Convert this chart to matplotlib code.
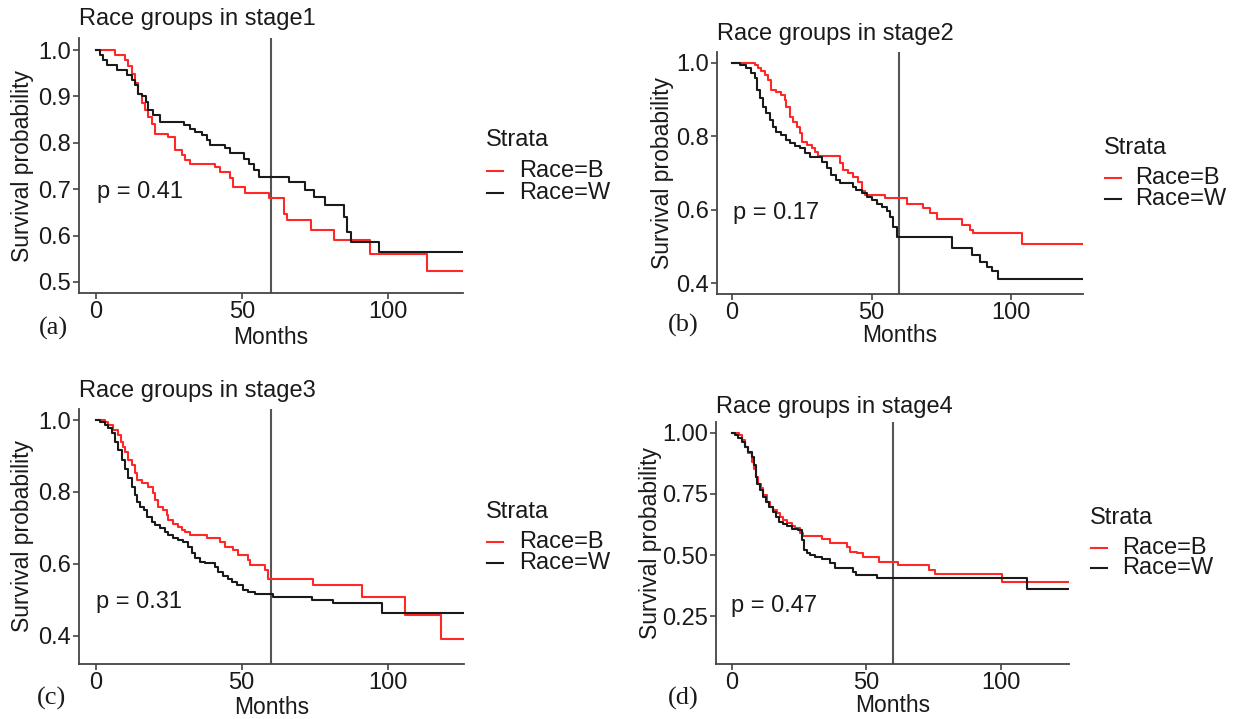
import matplotlib
matplotlib.use("Agg")
import matplotlib.pyplot as plt
from matplotlib.lines import Line2D

plt.rcParams['font.family'] = ['Liberation Sans', 'DejaVu Sans']

W, H = 1233, 719

# --- stage 1 (Kaplan-Meier step data) ---
s1_b_time = [0, 6.5, 10, 11.1, 12.2, 13.4, 14.5, 15.7, 16.8, 18, 19.1, 20.3, 24.8, 27.1, 29.4, 30.5,
             32.3, 40.8, 42.6, 46, 47.1, 51.1, 59.2, 64.3, 65.4, 73.5, 81.5, 94, 113.5, 127]
s1_b_surv = [1.0, 0.99, 0.978, 0.965, 0.948, 0.93, 0.905, 0.885, 0.87, 0.855, 0.84, 0.82, 0.813, 0.784,
             0.773, 0.763, 0.755, 0.748, 0.737, 0.723, 0.705, 0.692, 0.68, 0.647, 0.633, 0.612, 0.59,
             0.561, 0.524, 0.524]
s1_w_time = [0, 1.4, 2.5, 3.7, 7.1, 10.5, 12.2, 13.4, 14.5, 15.7, 17, 18, 19.7, 22, 30, 32.3, 34, 36.3,
             38, 39.1, 44.3, 46, 50.6, 52.3, 54, 55.7, 66, 71.7, 74.6, 78.6, 84.9, 86, 87.2, 96.9, 127]
s1_w_surv = [1.0, 0.99, 0.978, 0.968, 0.957, 0.946, 0.935, 0.925, 0.906, 0.9, 0.888, 0.87, 0.86, 0.845,
             0.838, 0.83, 0.824, 0.817, 0.806, 0.795, 0.788, 0.777, 0.766, 0.755, 0.741, 0.727, 0.716,
             0.698, 0.683, 0.665, 0.64, 0.608, 0.586, 0.565, 0.565]

# --- stage 2 ---
s2_b_time = [0, 8.1, 9.3, 10.5, 11.7, 12.9, 14.1, 15.9, 17.7, 18.9, 19.5, 20.7, 21.9, 23.1, 24.3, 25.1,
             26.7, 28.5, 29.7, 30.9, 38.6, 39.8, 41.6, 43.4, 45.2, 46.4, 47.6, 54.8, 62.6, 68.5, 70.9,
             73.3, 82.3, 85.3, 86.5, 103.8, 127]
s2_b_surv = [1.0, 0.994, 0.985, 0.976, 0.966, 0.953, 0.926, 0.921, 0.912, 0.898, 0.88, 0.853, 0.84,
             0.826, 0.808, 0.785, 0.776, 0.767, 0.758, 0.746, 0.726, 0.708, 0.699, 0.69, 0.676, 0.65,
             0.64, 0.631, 0.617, 0.604, 0.59, 0.574, 0.558, 0.545, 0.538, 0.507, 0.507]
s2_w_time = [0, 2.8, 5.1, 6.9, 8.1, 9, 9.9, 11.1, 12.3, 13.5, 14.7, 15.9, 17.7, 19.5, 20.7, 22.5, 24.3,
             26.1, 27.9, 32.1, 33.9, 35.6, 37.4, 38.6, 43.4, 44.6, 46.4, 48.2, 50, 51.8, 53.6, 55.4,
             56.6, 57.8, 59, 78.7, 85.9, 88.9, 91.3, 93.1, 95.5, 127]
s2_w_surv = [1.0, 0.994, 0.985, 0.971, 0.957, 0.926, 0.903, 0.88, 0.862, 0.844, 0.826, 0.812, 0.803,
             0.791, 0.782, 0.773, 0.767, 0.755, 0.744, 0.731, 0.713, 0.694, 0.681, 0.672, 0.663, 0.654,
             0.645, 0.636, 0.627, 0.617, 0.608, 0.597, 0.581, 0.554, 0.527, 0.495, 0.477, 0.459, 0.445,
             0.434, 0.413, 0.413]

# --- stage 3 ---
s3_b_time = [0, 3.2, 4.3, 6, 7.8, 8.6, 9.5, 10, 11.2, 12.3, 13.5, 14, 15.8, 18, 19.7, 20.3, 21.5, 23.2,
             24.3, 24.9, 26.6, 28.3, 29.5, 30.6, 32.3, 38, 42.6, 44.3, 47.1, 48.9, 52.3, 52.9, 58, 59.1,
             74.5, 91.1, 105.9, 118.2, 127]
s3_b_surv = [1.0, 0.995, 0.986, 0.972, 0.958, 0.94, 0.926, 0.912, 0.889, 0.875, 0.852, 0.833, 0.824,
             0.814, 0.796, 0.777, 0.759, 0.75, 0.736, 0.722, 0.712, 0.703, 0.694, 0.689, 0.68, 0.673,
             0.661, 0.647, 0.638, 0.624, 0.61, 0.596, 0.583, 0.559, 0.541, 0.508, 0.457, 0.392, 0.392]
s3_w_time = [0, 1.5, 3.2, 4.3, 5.5, 6.6, 7.8, 8.9, 10, 11.2, 12.3, 13.5, 14, 15.2, 16.6, 17.5, 19.2,
             20.3, 22, 23.7, 24.9, 26.6, 28.3, 30, 31.7, 32.9, 34, 35.7, 37.4, 40.8, 42, 43.7, 45.4,
             46.6, 48.3, 50.6, 52.3, 54.6, 60.8, 74, 81.4, 97.9, 127]
s3_w_surv = [1.0, 0.995, 0.986, 0.977, 0.963, 0.94, 0.917, 0.889, 0.865, 0.838, 0.814, 0.791, 0.773,
             0.759, 0.75, 0.731, 0.717, 0.708, 0.699, 0.689, 0.68, 0.671, 0.666, 0.661, 0.647, 0.629,
             0.615, 0.606, 0.601, 0.592, 0.578, 0.566, 0.559, 0.55, 0.541, 0.527, 0.522, 0.515, 0.508,
             0.499, 0.49, 0.462, 0.462]

# --- stage 4 ---
s4_b_time = [0, 2.9, 3.7, 5, 6.2, 7.4, 8.3, 9.1, 9.9, 10.8, 11.8, 13, 14.3, 15.5, 16.7, 18, 19.2, 20.5,
             22.3, 23.6, 25.4, 26.7, 33.5, 36.6, 42.8, 44, 46.5, 49, 54.6, 62, 73.2, 75.7, 100.5, 127]
s4_b_surv = [1.0, 0.989, 0.969, 0.942, 0.915, 0.881, 0.853, 0.82, 0.792, 0.772, 0.745, 0.718, 0.697,
             0.684, 0.67, 0.657, 0.643, 0.63, 0.619, 0.609, 0.589, 0.578, 0.564, 0.548, 0.535, 0.514,
             0.507, 0.494, 0.474, 0.46, 0.44, 0.422, 0.392, 0.392]
s4_w_time = [0, 1.2, 2.5, 3.7, 5, 6.2, 7.4, 8.3, 9.1, 9.6, 10.5, 11.5, 12.8, 14, 15.3, 16.5, 17.7, 19.2,
             20.5, 22.3, 24.8, 26.1, 26.9, 27.9, 29.2, 31, 33.5, 36.6, 38.5, 45.3, 46.3, 54, 109.8, 127]
s4_w_surv = [1.0, 0.989, 0.976, 0.962, 0.942, 0.921, 0.901, 0.867, 0.82, 0.792, 0.765, 0.738, 0.718,
             0.697, 0.677, 0.657, 0.636, 0.627, 0.619, 0.605, 0.602, 0.562, 0.521, 0.507, 0.501, 0.491,
             0.483, 0.467, 0.446, 0.433, 0.419, 0.406, 0.362, 0.362]

titles = ["Race groups in stage1", "Race groups in stage2", "Race groups in stage3", "Race groups in stage4"]
p_values = ["p = 0.41", "p = 0.17", "p = 0.31", "p = 0.47"]
panel_tags = ["(a)", "(b)", "(c)", "(d)"]
y_ticks = [[0.5, 0.6, 0.7, 0.8, 0.9, 1.0], [0.4, 0.6, 0.8, 1.0], [0.4, 0.6, 0.8, 1.0],
           [0.25, 0.50, 0.75, 1.00]]
y_ticklabels = [["0.5", "0.6", "0.7", "0.8", "0.9", "1.0"], ["0.4", "0.6", "0.8", "1.0"],
                ["0.4", "0.6", "0.8", "1.0"], ["0.25", "0.50", "0.75", "1.00"]]
strata = ["Race=B", "Race=W"]
cutoff_month = 60

curves = [(s1_b_time, s1_b_surv, s1_w_time, s1_w_surv),
          (s2_b_time, s2_b_surv, s2_w_time, s2_w_surv),
          (s3_b_time, s3_b_surv, s3_w_time, s3_w_surv),
          (s4_b_time, s4_b_surv, s4_w_time, s4_w_surv)]

# layout in pixels: (left, top, right, bottom) of panel, xlim, ylim
boxes = [(79, 38, 463, 293), (717, 52, 1083, 294), (79, 409, 464, 664), (716, 422, 1069, 664)]
xlims = [(-5.8, 125.7), (-5.4, 125.8), (-5.7, 126.1), (-5.8, 125.4)]
ylims = [(0.476, 1.026), (0.371, 1.029), (0.321, 1.031), (0.056, 1.043)]
title_y = [19, 34, 391, 407]
ylabel_x = [23, 662, 23, 650]
months_y = [337, 335, 707, 705]
tag_xy = [(53, 328), (683, 325), (52, 698), (683, 698)]
p_xy = [(97, 192), (733, 213), (96, 602), (731, 606)]
legend_pos = [(486, 140, 171, 193, 519), (1104, 148, 178, 199, 1135),
              (486, 512, 542, 563, 519), (1090, 518, 548, 568, 1122)]

RED = "#ff2828"
BLACK = "#1a1a1a"
TXT = "#1a1a1a"
FS = 17

fig = plt.figure(figsize=(W / 100, H / 100), dpi=100)


def fx(px):
    return px / W


def fy(py):
    return 1 - py / H


for i in range(4):
    l, t, r, b = boxes[i]
    ax = fig.add_axes([fx(l), fy(b), fx(r) - fx(l), fy(t) - fy(b)])
    bt, bs, wt, ws = curves[i]
    ax.step(bt, bs, where='post', color=RED, lw=1.5, zorder=3)
    ax.step(wt, ws, where='post', color=BLACK, lw=1.5, zorder=3)
    ax.axvline(cutoff_month, color="#555555", lw=1.5, zorder=2)
    ax.set_xlim(*xlims[i])
    ax.set_ylim(*ylims[i])
    ax.set_xticks([0, 50, 100])
    ax.set_yticks(y_ticks[i])
    ax.set_yticklabels(y_ticklabels[i])
    for s in ['top', 'right']:
        ax.spines[s].set_visible(False)
    for s in ['left', 'bottom']:
        ax.spines[s].set_color("#444444")
        ax.spines[s].set_linewidth(1.3)
    ax.tick_params(labelsize=FS, colors="#444444", labelcolor=TXT, width=1.2, length=4, pad=2)

    cx = (l + r) / 2
    fig.text(fx(l), fy(title_y[i]), titles[i], fontsize=FS, color=TXT, ha='left', va='center')
    fig.text(fx(ylabel_x[i]), fy((t + b) / 2), "Survival probability", fontsize=FS - 0.5, color=TXT,
             rotation=90, ha='center', va='center')
    fig.text(fx(cx), fy(months_y[i]), "Months", fontsize=FS - 0.5, color=TXT, ha='center', va='center')
    fig.text(fx(tag_xy[i][0]), fy(tag_xy[i][1]), panel_tags[i], fontsize=19, color=TXT,
             family=['Liberation Serif', 'DejaVu Serif'], ha='center', va='center')
    fig.text(fx(p_xy[i][0]), fy(p_xy[i][1]), p_values[i], fontsize=FS, color=TXT, ha='left', va='center')

    lx, sy, y1, y2, tx = legend_pos[i]
    fig.text(fx(lx), fy(sy), "Strata", fontsize=FS, color=TXT, ha='left', va='center')
    for yy, col, lab in [(y1, RED, strata[0]), (y2, BLACK, strata[1])]:
        fig.add_artist(Line2D([fx(lx + 1), fx(lx + 17)], [fy(yy), fy(yy)], color=col, lw=1.5))
        fig.text(fx(tx), fy(yy), lab, fontsize=FS, color=TXT, ha='left', va='center')

fig.savefig("out.png", dpi=100, facecolor="white")
